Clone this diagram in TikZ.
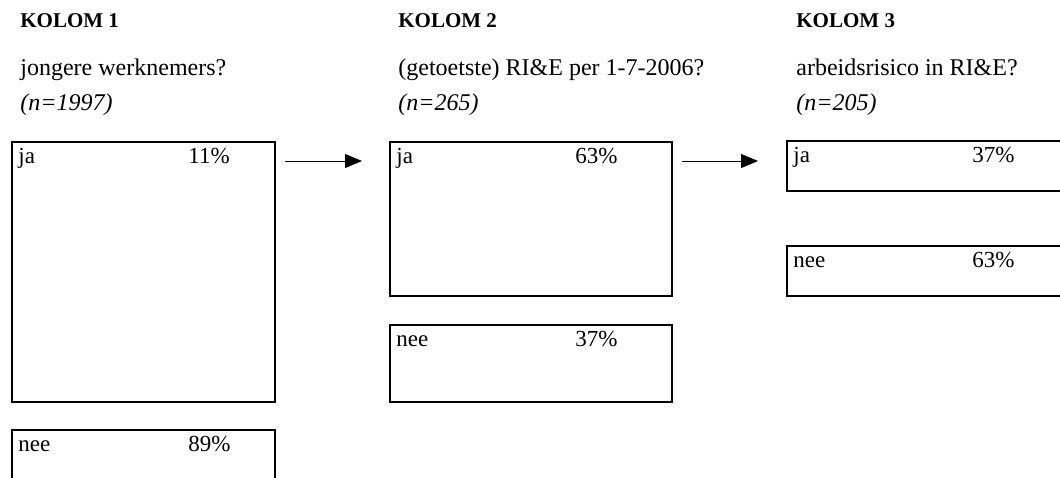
\documentclass[tikz,border=0pt]{standalone}
\usepackage{fontspec}
\setmainfont{Liberation Serif}
\usepackage{tikz}
\usetikzlibrary{arrows.meta}

\begin{document}
\begin{tikzpicture}[x=0.5pt, y=-0.5pt,
 vak/.style={draw, line width=1pt, rectangle, anchor=north west, inner sep=0pt},
 kop/.style={font=\fontsize{10.5}{12}\selectfont\bfseries, anchor=base west, inner sep=0pt},
 vraag/.style={font=\fontsize{12}{14}\selectfont, anchor=base west, inner sep=0pt},
 lab/.style={font=\fontsize{11.5}{13}\selectfont, anchor=base west, inner sep=0pt},
 pijl/.style={-{Triangle[length=8.5pt, width=7pt]}, line width=0.5pt}]
\useasboundingbox (0,0) rectangle (1060,477);
\clip (0,0) rectangle (1060,477);
% kolomkoppen
\node[kop]   (k1) at (20,27)   {KOLOM 1};
\node[vraag] (v1) at (20,75)   {jongere werknemers?};
\node[vraag] (n1) at (20,110)  {\itshape (n=1997)};
\node[kop]   (k2) at (398,27)  {KOLOM 2};
\node[vraag] (v2) at (398,75)  {(getoetste) RI\&E per 1-7-2006?};
\node[vraag] (n2) at (398,110) {\itshape (n=265)};
\node[kop]   (k3) at (796,27)  {KOLOM 3};
\node[vraag] (v3) at (796,75)  {arbeidsrisico in RI\&E?};
\node[vraag] (n3) at (796,110) {\itshape (n=205)};
% vakken
\node[vak, minimum width=131.5pt, minimum height=130pt]  (ja1)  at (11,141)  {};
\node[vak, minimum width=131.5pt, minimum height=39pt]   (nee1) at (11,429)  {};
\node[vak, minimum width=141pt,   minimum height=77pt]   (ja2)  at (389,141) {};
\node[vak, minimum width=141pt,   minimum height=38.5pt] (nee2) at (389,324) {};
\node[vak, minimum width=141pt,   minimum height=25pt]   (ja3)  at (786,140) {};
\node[vak, minimum width=141pt,   minimum height=25pt]   (nee3) at (786,245) {};
\foreach \v/\t/\p/\d in {ja1/ja/11/88.5, nee1/nee/89/88.5, ja2/ja/63/93,
                         nee2/nee/37/93, ja3/ja/37/93, nee3/nee/63/93} {
  \node[lab] (t-\v) at ([shift={(3.5pt,-11pt)}]\v.north west) {\t};
  \node[lab] (p-\v) at ([shift={(\d pt,-11pt)}]\v.north west) {\p\%};
}
% pijlen
\draw[pijl] ([shift={(4.5pt,-10pt)}]ja1.north east) -- ([shift={(-13.5pt,-10pt)}]ja2.north west);
\draw[pijl] ([shift={(4.5pt,-10pt)}]ja2.north east) -- ([shift={(-14pt,-10.5pt)}]ja3.north west);
\end{tikzpicture}
\end{document}
